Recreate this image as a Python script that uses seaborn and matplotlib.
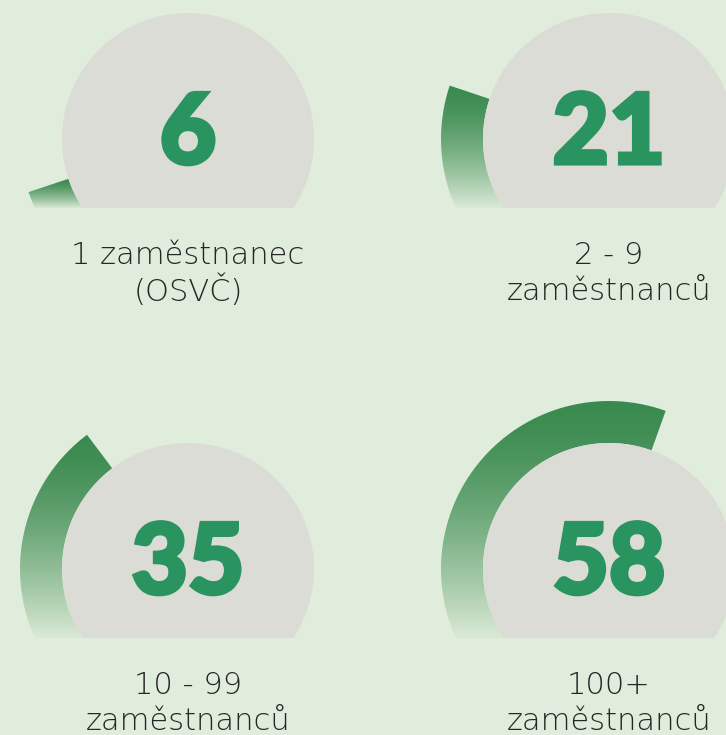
import numpy as np
import matplotlib
matplotlib.use("Agg")
import matplotlib.pyplot as plt
from matplotlib.path import Path
from matplotlib.patches import PathPatch
import matplotlib.patheffects as pe
import seaborn as sns

# ---- data ----
values = [6, 21, 35, 58]
label_top = ["1 zaměstnanec", "2 - 9", "10 - 99", "100+"]
label_bottom = ["(OSVČ)", "zaměstnanců", "zaměstnanců", "zaměstnanců"]

# ---- style ----
BG = "#e0ecdc"
DISC = "#dcdcd6"
NUM = "#2a9460"
TXT = "#262626"
GREEN_DARK = "#3a8a4f"
GREEN_PALE = "#dae9d5"

sns.set_theme(style="white")
plt.rcParams["font.family"] = ["Lato", "DejaVu Sans"]

W, H = 726, 735
fig = plt.figure(figsize=(W / 100, H / 100), dpi=100, facecolor=BG)
ax = fig.add_axes([0, 0, 1, 1])
ax.set_xlim(0, W)
ax.set_ylim(0, H)
ax.set_aspect("equal")
ax.axis("off")
ax.set_facecolor(BG)

cmap = sns.blend_palette([GREEN_PALE, GREEN_DARK], n_colors=256, as_cmap=True)

# layout (pixel positions of disc centres, y measured upward)
centers = [(188, 596), (609, 596), (188, 166), (609, 166)]
R_IN, R_OUT = 126, 168
CUT = 69  # bottom cut below centre
START = 180 + np.degrees(np.arcsin(CUT / R_IN))   # value 0 angle
END = -np.degrees(np.arcsin(CUT / R_IN))          # value 100 angle
SPAN = START - END


def angle_of(v):
    return START - SPAN * v / 100.0


for i, (v, (cx, cy)) in enumerate(zip(values, centers)):
    # disc, cut flat at the bottom
    t = np.radians(np.linspace(END, START, 300))
    disc = np.column_stack([cx + R_IN * np.cos(t), cy + R_IN * np.sin(t)])
    ax.add_patch(PathPatch(Path(np.vstack([disc, disc[:1]]), closed=False),
                           facecolor=DISC, edgecolor="none", zorder=2))

    # value arc: from the bottom-left cut clockwise to angle_of(v)
    a_end = angle_of(v)
    a_out0 = 180 + np.degrees(np.arcsin(CUT / R_OUT))
    t_out = np.radians(np.linspace(a_end, a_out0, 200))
    t_in = np.radians(np.linspace(START, a_end, 200))
    outer = np.column_stack([cx + R_OUT * np.cos(t_out), cy + R_OUT * np.sin(t_out)])
    inner = np.column_stack([cx + R_IN * np.cos(t_in), cy + R_IN * np.sin(t_in)])
    pts = np.vstack([outer, inner, outer[:1]])
    ring = PathPatch(Path(pts), facecolor="none", edgecolor="none", zorder=1)
    ax.add_patch(ring)
    ytop = pts[:, 1].max()
    ybot = cy - CUT
    s = np.linspace(0, 1, 256)
    grad = (1 - s ** 1.5).reshape(-1, 1)
    im = ax.imshow(grad, cmap=cmap, vmin=0, vmax=1, aspect="auto",
                   extent=[cx - R_OUT - 2, cx + R_OUT + 2, ybot, ytop],
                   interpolation="bilinear", zorder=1)
    im.set_clip_path(ring)

    # number
    ax.text(cx, cy + 4, f"{v}", ha="center", va="center", color=NUM,
            fontsize=70, fontweight="black", zorder=3,
            path_effects=[pe.withStroke(linewidth=3, foreground=NUM,
                                        joinstyle="miter")])

    # labels
    ax.text(cx, cy - 116, label_top[i], ha="center", va="center", color=TXT,
            fontsize=22, family=["DejaVu Sans"], fontweight="light", zorder=3)
    ax.text(cx, cy - 152, label_bottom[i], ha="center", va="center", color=TXT,
            fontsize=22, family=["DejaVu Sans"], fontweight="light", zorder=3)

ax.set_xlim(0, W)
ax.set_ylim(0, H)
fig.savefig("out.png", dpi=100, facecolor=BG)
